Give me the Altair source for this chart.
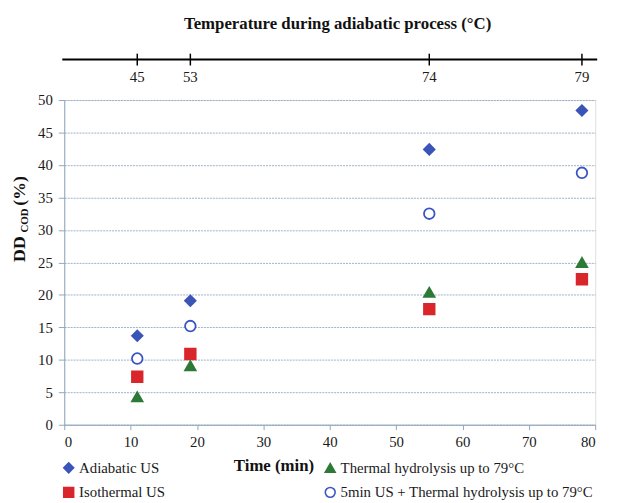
import altair as alt
import pandas as pd

# ---- data ----
time_min = [11, 19, 55, 78]
temp_c = ["45", "53", "74", "79"]

series_order = [
    "Adiabatic US",
    "Isothermal US",
    "Thermal hydrolysis up to 79°C",
    "5min US + Thermal hydrolysis up to 79°C",
]
adiabatic = [13.7, 19.1, 42.4, 48.4]
isothermal = [7.4, 10.9, 17.8, 22.4]
thermal = [4.3, 9.1, 20.4, 25.0]
us5_thermal = [10.2, 15.2, 32.5, 38.8]

x_ticks = list(range(0, 81, 10))
y_ticks = list(range(0, 51, 5))

shape_range = ["diamond", "square", "triangle-up", "circle"]
fill_range = ["#3b54b8", "#d9262b", "#2c7a35", "#ffffff"]
stroke_range = ["#3b54b8", "#d9262b", "#2c7a35", "#3b54c4"]

rows = []
for name, vals in zip(series_order, [adiabatic, isothermal, thermal, us5_thermal]):
    for t, v in zip(time_min, vals):
        rows.append({"time": t, "value": v, "series": name})
df = pd.DataFrame(rows)
df_top = pd.DataFrame({"time": time_min, "temp": temp_c})
dummy = pd.DataFrame({"a": [0]})

SERIF = "Liberation Serif"
AXIS_COLOR = "#8fa7bf"

x_enc = alt.X(
    "time:Q",
    scale=alt.Scale(domain=[0, 80], nice=False),
    axis=alt.Axis(
        values=x_ticks, grid=False, title="Time (min)",
        titleFont=SERIF, titleFontSize=17, titleFontWeight="bold", titleColor="#111",
        titleX=212, titleY=41, titleAlign="center", titleBaseline="middle",
        labelFont=SERIF, labelFontSize=15, labelColor="#1a1a1a", labelPadding=5,
        domainColor=AXIS_COLOR, tickColor=AXIS_COLOR, tickSize=5,
    ),
)

legend = alt.Legend(
    title=None, orient="none", legendX=-3, legendY=365, columns=2,
    columnPadding=158, rowPadding=8, padding=0,
    labelFont=SERIF, labelFontSize=15, labelColor="#1a1a1a", labelLimit=400,
    symbolSize=100, symbolStrokeWidth=1.6, labelOffset=3,
)

points = alt.Chart(df).mark_point(size=115, strokeWidth=1.8, opacity=1).encode(
    x=x_enc,
    y=alt.Y(
        "value:Q",
        scale=alt.Scale(domain=[0, 50], nice=False),
        axis=alt.Axis(
            values=y_ticks, title=None, grid=True,
            gridColor="#9db1c6", gridDash=[2, 1], gridWidth=1,
            labelFont=SERIF, labelFontSize=15, labelColor="#1a1a1a", labelPadding=6,
            domainColor=AXIS_COLOR, tickColor=AXIS_COLOR, tickSize=6,
        ),
    ),
    shape=alt.Shape("series:N", scale=alt.Scale(domain=series_order, range=shape_range), legend=legend),
    fill=alt.Fill("series:N", scale=alt.Scale(domain=series_order, range=fill_range), legend=legend),
    stroke=alt.Stroke("series:N", scale=alt.Scale(domain=series_order, range=stroke_range), legend=legend),
)

# secondary (top) temperature axis, drawn through the shared x scale
top_line = alt.Chart(dummy).mark_rule(color="black", strokeWidth=2).encode(
    x=alt.value(-2), x2=alt.value(540), y=alt.value(-41)
)
top_ticks = alt.Chart(df_top).mark_rule(color="black", strokeWidth=1.5).encode(
    x=x_enc, y=alt.value(-47), y2=alt.value(-35)
)
top_labels = alt.Chart(df_top).mark_text(
    font=SERIF, fontSize=15, color="#1a1a1a", baseline="middle"
).encode(x=x_enc, y=alt.value(-23), text="temp:N")

# y title with subscript
yt_dd = alt.Chart(dummy).mark_text(
    text="DD", angle=270, font=SERIF, fontSize=18, fontWeight="bold",
    align="center", baseline="alphabetic", color="#111"
).encode(x=alt.value(-40), y=alt.value(151))
yt_cod = alt.Chart(dummy).mark_text(
    text="COD", angle=270, font=SERIF, fontSize=11, fontWeight="bold",
    align="center", baseline="alphabetic", color="#111"
).encode(x=alt.value(-37), y=alt.value(122))
yt_pct = alt.Chart(dummy).mark_text(
    text="(%)", angle=270, font=SERIF, fontSize=18, fontWeight="bold",
    align="center", baseline="alphabetic", color="#111"
).encode(x=alt.value(-40), y=alt.value(92))

chart = alt.layer(
    points, top_line, top_ticks, top_labels, yt_dd, yt_cod, yt_pct
).properties(
    width=538,
    height=329,
    autosize=alt.AutoSizeParams(type="none"),
    padding={"left": 57, "top": 90, "right": 16, "bottom": 76},
    title=alt.TitleParams(
        "Temperature during adiabatic process (°C)",
        font=SERIF, fontSize=17, fontWeight="bold", color="#111",
        anchor="middle", dx=8, offset=20,
    ),
).configure_view(stroke=None).configure(
    background="white", font=SERIF
).configure_axis(labelFont=SERIF, titleFont=SERIF).configure_legend(labelFont=SERIF)

chart.save("out.html", embed_options={"renderer": "svg", "actions": False})
